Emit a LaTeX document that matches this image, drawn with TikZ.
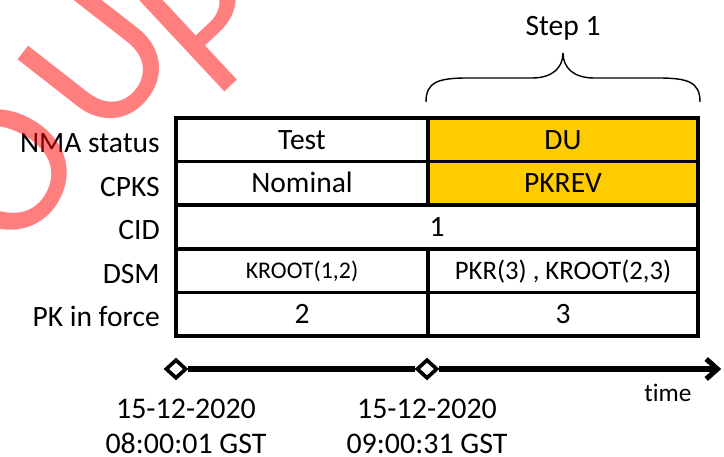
\documentclass[tikz,border=0pt]{standalone}
\usepackage{fontspec}
\setmainfont{Carlito}[Ligatures=NoCommon]
\usepackage{tikz}
\usetikzlibrary{shapes.geometric,arrows.meta}

\definecolor{duyellow}{RGB}{255,204,0}

\tikzset{
  cell/.style={text height=0.476cm, text depth=0pt, inner sep=0pt,
    font=\fontsize{21}{25}\selectfont},
  rowlabel/.style={cell, anchor=east},
  dsmtext/.style={cell, text height=0.385cm, font=\fontsize{17}{21}\selectfont},
  dsmwide/.style={cell, text height=0.43cm, font=\fontsize{19}{23}\selectfont},
  gridline/.style={line width=2.7pt},
  timeline/.style={line width=3.6pt},
  datetext/.style={anchor=base, inner sep=0pt, font=\fontsize{21.3}{25}\selectfont},
  tick/.style={diamond, draw, fill=white, line width=2.6pt, inner sep=0pt,
    minimum width=0.52cm, minimum height=0.48cm},
  stamp/.style={text=red, text opacity=0.5, inner sep=0pt, anchor=base,
    font=\fontsize{139}{139}\selectfont}
}

\begin{document}
\begin{tikzpicture}
                \useasboundingbox (0,0) rectangle (18.1,11.4);

                % coloured cells of step 1
                \fill[duyellow] (10.7,6.27) rectangle (17.45,8.45);

                % table
                \draw[gridline] (4.4,3.0) rectangle (17.45,8.45);
                \draw[gridline] (4.4,7.36) -- (17.45,7.36);
                \draw[gridline] (4.4,6.27) -- (17.45,6.27);
                \draw[gridline] (4.4,5.18) -- (17.45,5.18);
                \draw[gridline] (4.4,4.09) -- (17.45,4.09);
                \draw[gridline] (10.7,8.45) -- (10.7,6.27);
                \draw[gridline] (10.7,5.18) -- (10.7,3.0);

                % row names
                \node[rowlabel] (lnma) at (4.0,7.825) {NMA status};
                \node[rowlabel] (lcpks) at (4.0,6.735) {CPKS};
                \node[rowlabel] (lcid) at (4.0,5.645) {CID};
                \node[rowlabel] (ldsm) at (4.0,4.555) {DSM};
                \node[rowlabel] (lpk) at (4.0,3.465) {PK in force};

                % cells
                \node[cell] (test) at (7.55,7.905) {Test};
                \node[cell] (du) at (14.075,7.905) {DU};
                \node[cell] (nominal) at (7.55,6.815) {Nominal};
                \node[cell] (pkrev) at (14.075,6.815) {PKREV};
                \node[cell] (cid) at (10.925,5.725) {1};
                \node[dsmtext] (kroot) at (7.55,4.635) {KROOT(1,2)};
                \node[dsmwide] (pkr) at (14.075,4.635) {PKR(3) , KROOT(2,3)};
                \node[cell] (pkold) at (7.55,3.545) {2};
                \node[cell] (pknew) at (14.075,3.545) {3};

                % step brace
                \node[cell] (step) at (14.075,10.74) {Step 1};
                \draw[line width=1pt] (10.65,8.85) .. controls (10.65,9.35) and (10.95,9.45) .. (11.7,9.45)
                    -- (13.3,9.45) .. controls (13.8,9.45) and (14.075,9.7) .. (14.075,10.075)
                    .. controls (14.075,9.7) and (14.35,9.45) .. (14.85,9.45)
                    -- (16.45,9.45) .. controls (17.2,9.45) and (17.5,9.35) .. (17.5,8.85);

                % time axis
                \node[tick] (d1) at (4.4,2.175) {};
                \node[tick] (d2) at (10.675,2.175) {};
                \coordinate (tend) at (18.03,2.175);
                \draw[timeline] (d1) -- (d2);
                \draw[timeline,-{Straight Barb[length=0.28cm,width=0.5cm]}] (d2) -- (tend);
                \node[anchor=base, inner sep=0pt, font=\fontsize{18}{21}\selectfont] (tlabel) at (16.7,1.375) {time};

                \node[datetext] (date1) at (4.65,0.95) {15-12-2020};
                \node[datetext] (hour1) at (4.65,0.07) {08:00:01 GST};
                \node[datetext] (date2) at (10.675,0.95) {15-12-2020};
                \node[datetext] (hour2) at (10.675,0.07) {09:00:31 GST};

                % watermark, letters set on an arch
                \begin{scope}
                    \clip (0,0) rectangle (18.1,11.4);
                    \node[stamp, rotate=62] (wmo) at (1.475,6.425) {O};
                    \node[stamp, rotate=52] (wmu) at (3.68,8.94) {U};
                    \node[stamp, rotate=43] (wmp) at (6.275,9.725) {P};
                \end{scope}
            \end{tikzpicture}
\end{document}
